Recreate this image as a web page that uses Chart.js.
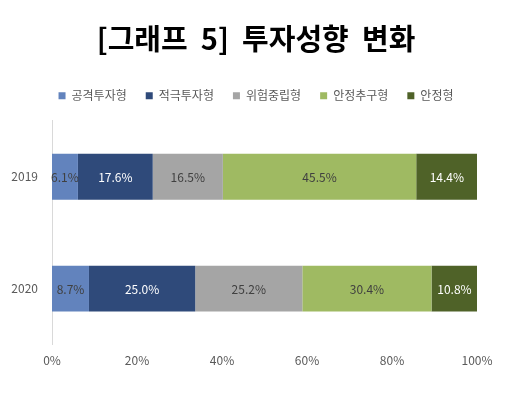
<!DOCTYPE html>
<html>
<head>
<meta charset="utf-8">
<script src="https://cdn.jsdelivr.net/npm/chart.js@4"></script>
<style>
  html, body { margin: 0; padding: 0; background: #fff; }
  #wrap { width: 512px; height: 397px; }
</style>
</head>
<body>
<div id="wrap"><canvas id="investChart"></canvas></div>
<script>
// 데이터
const years = ['2019', '2020'];
const seriesNames = ['공격투자형', '적극투자형', '위험중립형', '안정추구형', '안정형'];
const aggressive = [6.1, 8.7];
const active = [17.6, 25.0];
const neutral = [16.5, 25.2];
const stableSeeking = [45.5, 30.4];
const stable = [14.4, 10.8];
const xTicks = [0, 20, 40, 60, 80, 100];

const colors = ['#6283bd', '#2f4a7a', '#a5a5a5', '#9fba62', '#4f6228'];
const labelColors = ['#404040', '#ffffff', '#404040', '#404040', '#ffffff'];
const KR = '"Noto Sans CJK KR", "Noto Sans", sans-serif';

const allSeries = [aggressive, active, neutral, stableSeeking, stable];

// 막대 안의 값 표시
const barLabels = {
    id: 'barLabels',
    afterInit(chart) {
        // 범례 아래 여백 조금 더
        if (chart.legend) {
            const origFit = chart.legend.fit;
            chart.legend.fit = function () {
                origFit.call(this);
                this.height += 9;
            };
        }
    },
    afterDatasetsDraw(chart) {
        const ctx = chart.ctx;
        ctx.save();
        ctx.font = '12px ' + KR;
        ctx.textAlign = 'center';
        ctx.textBaseline = 'middle';
        chart.data.datasets.forEach((ds, i) => {
            chart.getDatasetMeta(i).data.forEach((bar, j) => {
                const p = bar.getCenterPoint();
                ctx.fillStyle = labelColors[i];
                ctx.fillText(ds.data[j].toFixed(1) + '%', p.x, p.y + 1);
            });
        });
        ctx.restore();
    }
};

new Chart(document.getElementById('investChart'), {
    type: 'bar',
    data: {
        labels: years,
        datasets: seriesNames.map((name, i) => ({
            label: name,
            data: allSeries[i],
            backgroundColor: colors[i],
            categoryPercentage: 1,
            barPercentage: 0.41,
        })),
    },
    options: {
        indexAxis: 'y',
        responsive: true,
        maintainAspectRatio: false,
        animation: false,
        layout: { padding: { left: 0, right: 0, top: 0, bottom: 28 } },
        scales: {
            x: {
                stacked: true,
                min: 0,
                max: 100,
                afterBuildTicks: (scale) => { scale.ticks = xTicks.map(v => ({ value: v })); },
                grid: { display: false },
                border: { display: false },
                ticks: {
                    color: '#595959',
                    font: { family: KR, size: 12 },
                    padding: 1,
                    callback: (v) => v + '%',
                },
            },
            y: {
                stacked: true,
                grid: { display: false },
                border: { display: true, color: '#d9d9d9' },
                afterFit: (scale) => { scale.width = 52; },
                ticks: {
                    color: '#595959',
                    font: { family: KR, size: 12 },
                    padding: 6,
                },
            },
            // 오른쪽 여백용 빈 축
            yRight: {
                position: 'right',
                grid: { display: false },
                border: { display: false },
                ticks: { display: false },
                afterFit: (scale) => { scale.width = 35; },
            },
        },
        plugins: {
            title: {
                display: true,
                text: '[그래프  5]  투자성향  변화',
                color: '#000',
                font: { family: KR, size: 29, weight: 'bold' },
                padding: { top: 22, bottom: 14 },
            },
            legend: {
                position: 'top',
                labels: {
                    boxWidth: 7,
                    boxHeight: 7,
                    color: '#595959',
                    font: { family: KR, size: 12 },
                    padding: 19,
                },
            },
            tooltip: { enabled: false },
        },
    },
    plugins: [barLabels],
});
</script>
</body>
</html>
